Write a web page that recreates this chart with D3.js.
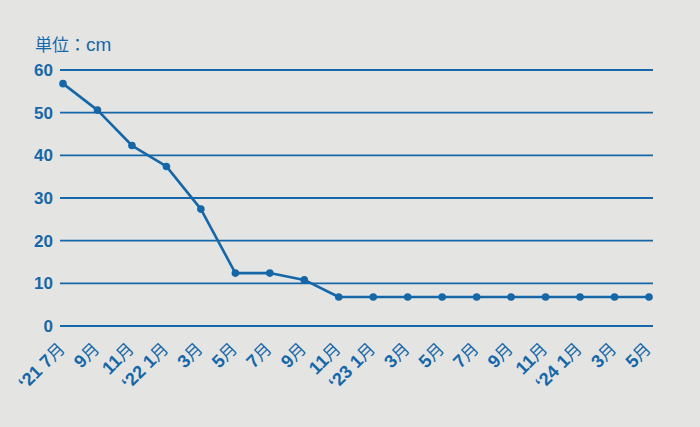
<!DOCTYPE html>
<html><head><meta charset="utf-8">
<script src="https://cdn.jsdelivr.net/npm/d3@7"></script>
<style>
body{margin:0;background:#e4e5e3;}
svg{display:block;}
</style></head>
<body>
<svg id="c" width="700" height="427"></svg>
<script>
const categories = ["‘21 7月","9月","11月","‘22 1月","3月","5月","7月","9月","11月","‘23 1月","3月","5月","7月","9月","11月","‘24 1月","3月","5月"];
const values = [56.8,50.6,42.3,37.4,27.4,12.4,12.4,10.8,6.8,6.8,6.8,6.8,6.8,6.8,6.8,6.8,6.8,6.8];
const yTicks = [0,10,20,30,40,50,60];
const unitLabel = "単位：cm";

const blue = "#1667a8";
const font = "'Liberation Sans','Noto Sans CJK JP',Arial,sans-serif";
const cjk = "'Noto Sans CJK JP',sans-serif";
const svg = d3.select("#c");
svg.append("rect").attr("width",700).attr("height",427).attr("fill","#e4e5e3");

const x = d3.scalePoint().domain(d3.range(categories.length)).range([63,649]);
const y = d3.scaleLinear().domain([0,60]).range([326,70]);

// grid
svg.append("g").selectAll("line").data(yTicks).join("line")
  .attr("x1",60).attr("x2",653)
  .attr("y1",d=>y(d)).attr("y2",d=>y(d))
  .attr("stroke",blue).attr("stroke-width",1.8);

// y labels
svg.append("g").selectAll("text").data(yTicks).join("text")
  .attr("x",53).attr("y",d=>y(d)).attr("dy","0.36em")
  .attr("text-anchor","end").attr("fill",blue)
  .attr("font-family",font).attr("font-weight","bold").attr("font-size",17)
  .text(d=>d);

// unit
const u = svg.append("text").attr("x",35).attr("y",51).attr("fill",blue)
  .attr("font-family",font).attr("font-size",17);
u.append("tspan").attr("font-family",cjk).text(unitLabel.slice(0,3));
u.append("tspan").attr("font-size",19).text(unitLabel.slice(3));

// line
svg.append("path").datum(values)
  .attr("d",d3.line().x((d,i)=>x(i)).y(d=>y(d)))
  .attr("fill","none").attr("stroke",blue).attr("stroke-width",2.6).attr("stroke-linejoin","round");

svg.append("g").selectAll("circle").data(values).join("circle")
  .attr("cx",(d,i)=>x(i)).attr("cy",d=>y(d)).attr("r",3.8).attr("fill",blue);

// x labels
svg.append("g").selectAll("text").data(categories).join("text")
  .attr("transform",(d,i)=>`translate(${x(i)+3},${350}) rotate(-45)`)
  .attr("text-anchor","end").attr("fill",blue)
  .attr("font-family",font).attr("font-weight","bold").attr("font-size",18)
  .each(function(d){
    const m = d.match(/^(.*?)(月)$/);
    const t = d3.select(this);
    t.append("tspan").text(m[1]);
    t.append("tspan").attr("font-family",cjk).attr("font-weight","normal").attr("font-size",17).text(m[2]);
  });
</script>
</body></html>
